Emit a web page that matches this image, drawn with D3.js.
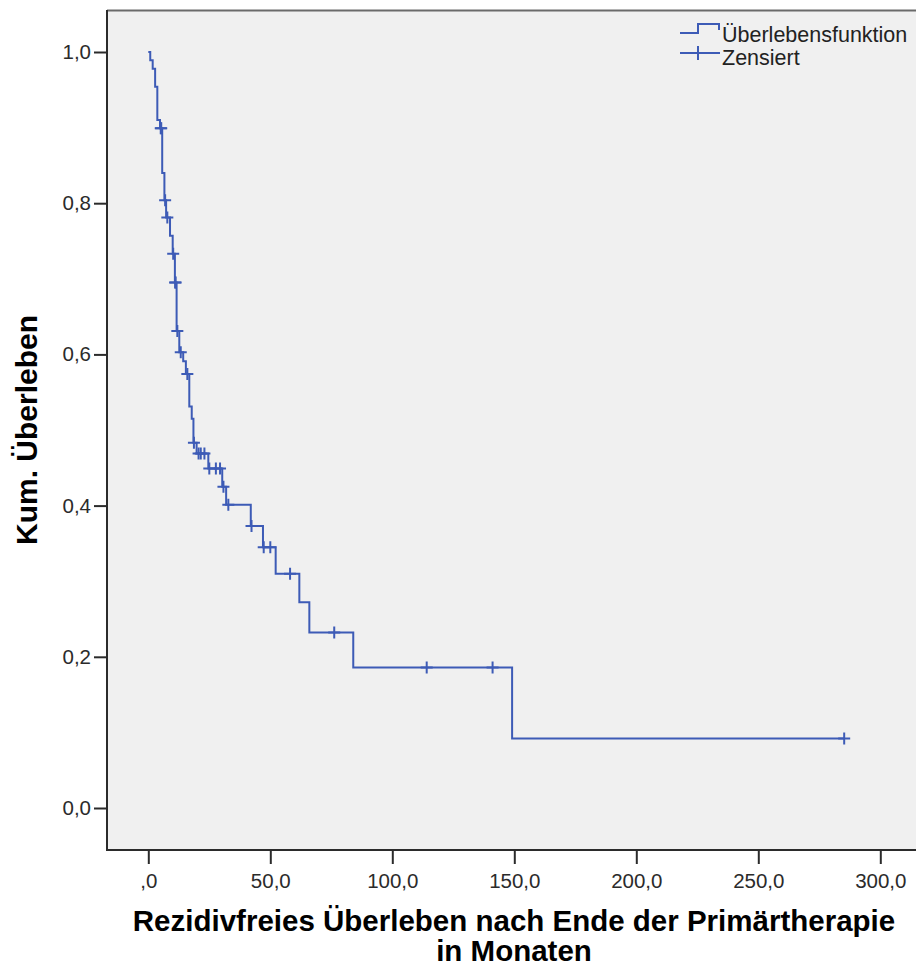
<!DOCTYPE html>
<html>
<head>
<meta charset="utf-8">
<script src="https://cdn.jsdelivr.net/npm/d3@7"></script>
<style>
  html, body { margin: 0; padding: 0; background: #ffffff; }
  svg { display: block; }
  text { font-family: "Liberation Sans", Arial, Helvetica, sans-serif; }
</style>
</head>
<body>
<svg id="chart" width="916" height="967"></svg>
<script>
// Kaplan-Meier estimate: event times (months) and survival level after each step
const stepTimes = [0, 0.8, 1.8, 2.8, 3.7, 4.8, 5.7, 6.6, 7.3, 8.9, 10.0, 10.9, 11.6, 12.7, 14.3, 15.4,
                   16.8, 17.8, 18.5, 19.8, 24.6, 30.3, 31.9, 42.0, 47.0, 52.2, 61.9, 66.0, 84.0, 149.1];
const survival  = [1.0, 0.989, 0.978, 0.954, 0.910, 0.899, 0.840, 0.804, 0.781, 0.757, 0.733, 0.695, 0.631, 0.603, 0.591, 0.574,
                   0.531, 0.515, 0.483, 0.469, 0.449, 0.425, 0.401, 0.373, 0.345, 0.310, 0.272, 0.232, 0.186, 0.092];
// censored observations (months)
const censorTimes = [5.1, 5.3, 6.9, 7.8, 10.2, 11.0, 11.2, 11.9, 13.3, 16.0, 18.7, 20.6, 21.5, 23.0, 25.0, 27.7,
                     29.4, 30.8, 32.8, 42.3, 47.3, 50.0, 58.1, 76.2, 114.1, 141.1, 285.2];
const xTicks = [0, 50, 100, 150, 200, 250, 300];
const yTicks = [0, 0.2, 0.4, 0.6, 0.8, 1.0];
const legendLabels = ["Überlebensfunktion", "Zensiert"];
const xTitle = ["Rezidivfreies Überleben nach Ende der Primärtherapie", "in Monaten"];
const yTitle = "Kum. Überleben";

const svg = d3.select("#chart");
const frame = { left: 107, top: 10, right: 930, bottom: 850 };
const lineColor = "#3d5bb6";

const x = d3.scaleLinear().domain([0, 300]).range([148.3, 880.3]);
const y = d3.scaleLinear().domain([0, 1]).range([808, 52]);

const commaFmt = v => d3.format(".1f")(v).replace(".", ",");

// plot background and frame
svg.append("rect")
  .attr("x", frame.left).attr("y", frame.top)
  .attr("width", frame.right - frame.left).attr("height", frame.bottom - frame.top)
  .attr("fill", "#f0f0f0");
svg.append("line")
  .attr("x1", frame.left).attr("x2", frame.right)
  .attr("y1", frame.top + 0.5).attr("y2", frame.top + 0.5)
  .attr("stroke", "#6a6a6a").attr("stroke-width", 2);

// axes
const yAxis = d3.axisLeft(y).tickValues(yTicks).tickSize(13).tickSizeOuter(0).tickPadding(3)
  .tickFormat(commaFmt);
const gy = svg.append("g").attr("transform", `translate(${frame.left},0)`).call(yAxis);

const xAxis = d3.axisBottom(x).tickValues(xTicks).tickSize(14).tickSizeOuter(0).tickPadding(9)
  .tickFormat(v => v === 0 ? ",0" : commaFmt(v));
const gx = svg.append("g").attr("transform", `translate(0,${frame.bottom})`).call(xAxis);

[gx, gy].forEach(g => {
  g.select(".domain").remove();
  g.selectAll(".tick line").attr("stroke", "#2b2b2b").attr("stroke-width", 2);
  g.selectAll(".tick text").attr("fill", "#2b2b2b").style("font-size", "20.5px");
});

svg.append("line")
  .attr("x1", frame.left).attr("x2", frame.left)
  .attr("y1", frame.top).attr("y2", frame.bottom + 1)
  .attr("stroke", "#2b2b2b").attr("stroke-width", 2);
svg.append("line")
  .attr("x1", frame.left - 1).attr("x2", frame.right)
  .attr("y1", frame.bottom).attr("y2", frame.bottom)
  .attr("stroke", "#2b2b2b").attr("stroke-width", 2);

// survival step function
const bisect = d3.bisector(d => d).right;
const levelAt = t => survival[Math.max(0, bisect(stepTimes, t) - 1)];
const lastT = d3.max(censorTimes);
const pts = stepTimes.map((t, i) => [t, survival[i]]).concat([[lastT, levelAt(lastT)]]);

const stepLine = d3.line().x(d => x(d[0])).y(d => y(d[1])).curve(d3.curveStepAfter);
svg.append("path")
  .datum(pts)
  .attr("d", stepLine)
  .attr("fill", "none")
  .attr("stroke", lineColor)
  .attr("stroke-width", 2);

// censor marks
const arm = 6;
const cg = svg.append("g").attr("stroke", lineColor).attr("stroke-width", 2);
censorTimes.forEach(t => {
  const cx = x(t), cy = y(levelAt(t));
  cg.append("path").attr("d", `M${cx - arm},${cy}H${cx + arm}M${cx},${cy - arm}V${cy + arm}`);
});

// legend
const lg = svg.append("g");
lg.append("path")
  .attr("d", "M680,33H698V24H719V30")
  .attr("fill", "none").attr("stroke", lineColor).attr("stroke-width", 2);
lg.append("path")
  .attr("d", "M680,53H720M698,46V60")
  .attr("fill", "none").attr("stroke", lineColor).attr("stroke-width", 2);
lg.selectAll("text").data(legendLabels).join("text")
  .attr("x", 722).attr("y", (d, i) => 41.5 + i * 23.5)
  .attr("fill", "#222")
  .style("font-size", "21.5px")
  .text(d => d);

// axis titles
svg.append("text")
  .attr("transform", "translate(37,430) rotate(-90)")
  .attr("text-anchor", "middle")
  .style("font-size", "30px").style("font-weight", "bold")
  .text(yTitle);
svg.selectAll(".xtitle").data(xTitle).join("text")
  .attr("class", "xtitle")
  .attr("x", 514).attr("y", (d, i) => 930.5 + i * 30)
  .attr("text-anchor", "middle")
  .style("font-size", "29.5px").style("font-weight", "bold")
  .text(d => d);
</script>
</body>
</html>
